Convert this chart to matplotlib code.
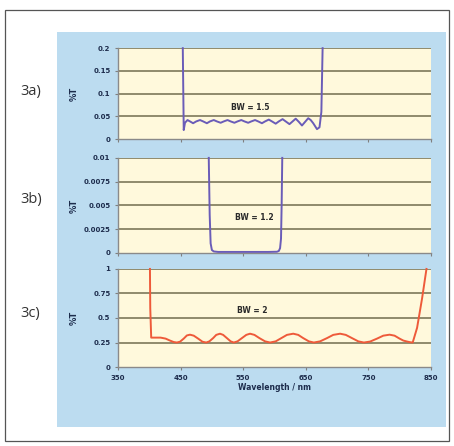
import matplotlib
matplotlib.use("Agg")
import matplotlib.pyplot as plt
import matplotlib.patches as patches

# Panel 3a, BW = 1.5
wl_a = [453.5, 455, 457, 461, 465, 470, 475, 481, 486, 492, 497, 503, 508, 514,
        519, 525, 530, 536, 541, 547, 552, 558, 563, 569, 574, 580, 585, 591,
        596, 602, 607, 613, 618, 624, 629, 634, 639, 644, 649, 654, 658, 662,
        668, 672, 675, 677]
t_a = [0.2, 0.02, 0.036, 0.042, 0.039, 0.035, 0.039, 0.042, 0.039, 0.035, 0.039,
       0.042, 0.039, 0.036, 0.039, 0.042, 0.039, 0.036, 0.039, 0.042, 0.039,
       0.036, 0.039, 0.042, 0.039, 0.035, 0.039, 0.043, 0.039, 0.034, 0.039,
       0.044, 0.039, 0.033, 0.039, 0.045, 0.038, 0.03, 0.038, 0.046, 0.042,
       0.035, 0.022, 0.026, 0.06, 0.2]

# Panel 3b, BW = 1.2
wl_b = [495, 496.5, 498, 500, 503, 510, 530, 550, 570, 590, 604, 607, 609,
        610.5, 611.5, 612.5]
t_b = [0.01, 0.004, 0.001, 0.0003, 0.00015, 0.0001, 0.0001, 0.0001, 0.0001,
       0.0001, 0.00012, 0.0002, 0.0005, 0.0015, 0.005, 0.01]

# Panel 3c, BW = 2
wl_c = [401, 401.5, 403, 418, 426, 433, 439, 444, 449, 455, 460, 465, 471, 478,
        485, 491, 496, 502, 507, 513, 518, 524, 530, 535, 541, 548, 555, 561,
        568, 576, 585, 593, 602, 611, 620, 630, 638, 646, 655, 663, 673, 684,
        694, 705, 714, 724, 734, 743, 753, 764, 774, 784, 792, 800, 806, 812,
        817, 821, 828, 836, 843]
t_c = [1.0, 0.6, 0.3, 0.3, 0.29, 0.27, 0.255, 0.25, 0.258, 0.29, 0.322, 0.33,
       0.32, 0.29, 0.258, 0.25, 0.262, 0.295, 0.328, 0.34, 0.328, 0.295, 0.262,
       0.25, 0.262, 0.295, 0.328, 0.34, 0.328, 0.295, 0.262, 0.25, 0.262, 0.295,
       0.328, 0.34, 0.328, 0.295, 0.262, 0.25, 0.262, 0.295, 0.328, 0.34, 0.328,
       0.295, 0.262, 0.25, 0.26, 0.29, 0.32, 0.33, 0.32, 0.29, 0.27, 0.26,
       0.253, 0.25, 0.4, 0.7, 1.0]

x_ticks = [350, 450, 550, 650, 750, 850]
y_ticks_a = [0, 0.05, 0.1, 0.15, 0.2]
y_labels_a = ["0", "0.05", "0.1", "0.15", "0.2"]
y_ticks_b = [0, 0.0025, 0.005, 0.0075, 0.01]
y_labels_b = ["0", "0.0025", "0.005", "0.0075", "0.01"]
y_ticks_c = [0, 0.25, 0.5, 0.75, 1]
y_labels_c = ["0", "0.25", "0.5", "0.75", "1"]

BLUE_BG = '#bcdcf0'
PLOT_BG = '#fff9dc'
GRID = '#8f8a6c'
TICK_COL = '#1d2c4c'
PURPLE = '#6a5cb8'
RED = '#ee5a3a'

fig = plt.figure(figsize=(4.54, 4.46), dpi=100)
fig.patch.set_facecolor('white')

# outer frame and blue panel
fig.patches.append(patches.Rectangle((0.011, 0.011), 0.978, 0.966, transform=fig.transFigure,
                                     facecolor='white', edgecolor='#555555', linewidth=0.9, zorder=0))
fig.patches.append(patches.Rectangle((0.1256, 0.0426), 0.857, 0.885, transform=fig.transFigure,
                                     facecolor=BLUE_BG, edgecolor='none', zorder=1))


def setup(ax, yt, yl, show_x):
    ax.set_facecolor(PLOT_BG)
    ax.set_xlim(350, 850)
    ax.set_ylim(yt[0], yt[-1])
    ax.set_yticks(yt)
    ax.set_yticklabels(yl)
    ax.set_xticks(x_ticks)
    if not show_x:
        ax.set_xticklabels([])
    ax.tick_params(axis='both', length=2.5, width=0.8, color='#7f7f7f',
                   labelsize=5, labelcolor=TICK_COL, pad=3)
    for lab in ax.get_xticklabels() + ax.get_yticklabels():
        lab.set_fontweight('bold')
    for y in yt[1:]:
        ax.axhline(y, color=GRID, lw=1.4, zorder=1)
    for s in ['top', 'right']:
        ax.spines[s].set_visible(False)
    for s in ['left', 'bottom']:
        ax.spines[s].set_color('#8a8a8a')
        ax.spines[s].set_linewidth(1.0)
    ax.text(-0.14, 0.5, '%T', transform=ax.transAxes, rotation=90, ha='center',
            va='center', fontsize=6, fontweight='bold', color=TICK_COL)


ax_a = fig.add_axes([0.260, 0.688, 0.689, 0.204], zorder=3)
setup(ax_a, y_ticks_a, y_labels_a, False)
ax_a.plot(wl_a, t_a, color=PURPLE, lw=1.4, zorder=3, clip_on=False,
          solid_joinstyle='round')
ax_a.text(561, 0.07, 'BW = 1.5', ha='center', va='center', fontsize=5.5,
          fontweight='bold', color='#2a2a2a')

ax_b = fig.add_axes([0.260, 0.433, 0.689, 0.213], zorder=3)
setup(ax_b, y_ticks_b, y_labels_b, False)
ax_b.plot(wl_b, t_b, color=PURPLE, lw=1.4, zorder=3, clip_on=False,
          solid_joinstyle='round')
ax_b.text(568, 0.0037, 'BW = 1.2', ha='center', va='center', fontsize=5.5,
          fontweight='bold', color='#2a2a2a')

ax_c = fig.add_axes([0.260, 0.177, 0.689, 0.220], zorder=3)
setup(ax_c, y_ticks_c, y_labels_c, True)
ax_c.plot(wl_c, t_c, color=RED, lw=1.4, zorder=3, clip_on=False,
          solid_joinstyle='round')
ax_c.text(564, 0.58, 'BW = 2', ha='center', va='center', fontsize=5.5,
          fontweight='bold', color='#2a2a2a')
ax_c.set_xlabel('Wavelength / nm', fontsize=5.5, fontweight='bold', color=TICK_COL, labelpad=2)

# panel labels
for txt, y in [('3a)', 0.794), ('3b)', 0.552), ('3c)', 0.298)]:
    fig.text(0.045, y, txt, fontsize=10.5, color='#333333', va='center', ha='left',
             family='Open Sans')

fig.savefig('out.png', dpi=100, facecolor='white')
